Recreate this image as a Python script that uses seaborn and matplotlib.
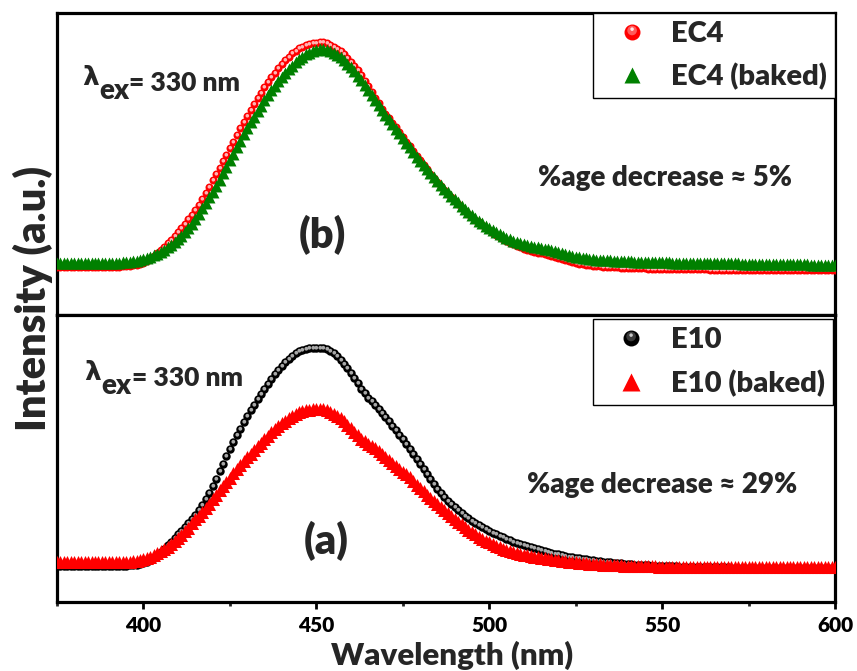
import numpy as np
import matplotlib
matplotlib.use("Agg")
import matplotlib.pyplot as plt
import seaborn as sns
from matplotlib.path import Path
from matplotlib.lines import Line2D
from matplotlib.legend_handler import HandlerTuple
from matplotlib.ticker import MultipleLocator, NullLocator

sns.set_theme(style="white")
plt.rcParams["font.family"] = ["Lato", "DejaVu Sans"]
plt.rcParams["font.weight"] = "heavy"
W = "heavy"

# Emission spectra, excitation at 330 nm, 1 nm steps (intensity in a.u.)
wavelength = np.arange(375, 601, 1)

ec4 = [
    480, 480, 480, 480, 480, 480, 479, 479, 478, 478,
    478, 478, 479, 479, 480, 480, 481, 482, 483, 485,
    488, 491, 495, 501, 510, 523, 540, 563, 590, 619,
    650, 682, 715, 752, 790, 830, 870, 912, 955, 1002,
    1050, 1104, 1160, 1220, 1280, 1345, 1410, 1472, 1535, 1600,
    1665, 1733, 1800, 1865, 1930, 1990, 2050, 2110, 2170, 2225,
    2280, 2330, 2380, 2425, 2470, 2510, 2550, 2585, 2620, 2645,
    2670, 2685, 2700, 2710, 2720, 2725, 2730, 2727, 2720, 2705,
    2685, 2663, 2640, 2608, 2575, 2535, 2495, 2448, 2400, 2345,
    2290, 2233, 2175, 2118, 2060, 2012, 1965, 1920, 1875, 1828,
    1780, 1733, 1685, 1638, 1590, 1545, 1500, 1455, 1410, 1370,
    1330, 1290, 1250, 1212, 1175, 1140, 1105, 1072, 1040, 1010,
    980, 952, 925, 897, 870, 845, 820, 800, 780, 760,
    740, 722, 705, 690, 675, 662, 650, 640, 630, 622,
    615, 608, 600, 590, 580, 567, 555, 545, 535, 527,
    520, 512, 505, 500, 495, 491, 488, 485, 483, 481,
    479, 477, 475, 473, 472, 470, 469, 468, 467, 466,
    465, 464, 463, 462, 461, 460, 460, 459, 459, 458,
    458, 457, 457, 456, 456, 455, 455, 455, 455, 454,
    454, 454, 454, 453, 453, 452, 452, 451, 451, 450,
    450, 450, 450, 449, 449, 449, 449, 448, 448, 448,
    448, 447, 447, 447, 447, 446, 446, 446, 446, 445,
    445, 445, 445, 445, 445, 445,
]

ec4_baked = [
    520, 520, 520, 520, 520, 520, 520, 520, 520, 520,
    520, 520, 520, 520, 520, 520, 521, 521, 523, 525,
    528, 531, 535, 541, 548, 557, 568, 581, 596, 613,
    632, 653, 676, 701, 728, 759, 792, 830, 870, 914,
    960, 1012, 1067, 1122, 1177, 1233, 1290, 1353, 1417, 1482,
    1547, 1613, 1680, 1744, 1807, 1867, 1927, 1984, 2040, 2094,
    2147, 2197, 2247, 2294, 2340, 2380, 2420, 2457, 2493, 2527,
    2560, 2585, 2607, 2625, 2640, 2652, 2660, 2658, 2653, 2638,
    2620, 2602, 2580, 2548, 2513, 2476, 2437, 2395, 2350, 2300,
    2250, 2200, 2150, 2100, 2050, 2003, 1957, 1910, 1863, 1817,
    1770, 1723, 1677, 1630, 1583, 1541, 1500, 1460, 1420, 1380,
    1340, 1300, 1260, 1226, 1193, 1160, 1127, 1093, 1060, 1030,
    1000, 971, 943, 916, 890, 870, 850, 830, 810, 790,
    770, 756, 743, 731, 720, 710, 700, 691, 683, 675,
    668, 661, 655, 647, 638, 629, 620, 610, 600, 591,
    583, 576, 570, 565, 560, 556, 553, 550, 548, 546,
    545, 543, 542, 540, 538, 536, 535, 534, 533, 532,
    531, 530, 529, 528, 527, 526, 525, 525, 524, 524,
    523, 523, 522, 522, 521, 521, 520, 520, 519, 519,
    518, 518, 517, 517, 516, 516, 515, 515, 514, 514,
    513, 513, 512, 512, 511, 511, 510, 510, 509, 509,
    508, 508, 507, 507, 506, 506, 505, 505, 504, 504,
    503, 503, 502, 502, 501, 501,
]

e10 = [
    360, 360, 360, 360, 360, 360, 360, 360, 359, 359,
    359, 359, 359, 359, 360, 360, 360, 360, 361, 362,
    364, 366, 370, 375, 382, 392, 405, 423, 445, 470,
    500, 533, 568, 605, 642, 678, 715, 752, 790, 828,
    870, 918, 970, 1027, 1090, 1160, 1235, 1310, 1385, 1458,
    1530, 1600, 1670, 1735, 1800, 1860, 1920, 1975, 2030, 2083,
    2135, 2185, 2235, 2278, 2320, 2360, 2400, 2433, 2465, 2490,
    2510, 2523, 2533, 2538, 2542, 2543, 2542, 2536, 2527, 2510,
    2490, 2460, 2425, 2385, 2340, 2292, 2240, 2188, 2135, 2088,
    2045, 2007, 1970, 1932, 1895, 1853, 1810, 1765, 1720, 1675,
    1630, 1583, 1535, 1485, 1435, 1383, 1330, 1280, 1230, 1182,
    1135, 1092, 1050, 1015, 980, 950, 920, 892, 865, 840,
    815, 792, 770, 750, 730, 712, 695, 680, 665, 650,
    635, 620, 605, 592, 580, 568, 557, 547, 537, 527,
    518, 509, 500, 492, 484, 477, 470, 462, 455, 449,
    443, 437, 432, 427, 422, 417, 413, 409, 405, 401,
    397, 393, 390, 386, 383, 380, 377, 374, 372, 370,
    368, 366, 364, 362, 361, 360, 359, 358, 357, 356,
    355, 354, 353, 352, 352, 351, 350, 349, 349, 348,
    348, 347, 347, 346, 346, 345, 345, 344, 344, 343,
    343, 342, 342, 341, 341, 341, 341, 340, 340, 339,
    339, 339, 339, 338, 338, 338, 338, 337, 337, 337,
    337, 336, 336, 336, 336, 336,
]

e10_baked = [
    397, 397, 397, 397, 397, 397, 397, 397, 397, 397,
    397, 397, 397, 397, 397, 397, 398, 398, 399, 400,
    401, 404, 408, 413, 420, 429, 440, 454, 470, 489,
    510, 532, 555, 582, 610, 642, 675, 710, 745, 786,
    827, 865, 903, 943, 983, 1027, 1071, 1116, 1161, 1203,
    1245, 1287, 1328, 1368, 1408, 1446, 1484, 1522, 1560, 1595,
    1630, 1664, 1697, 1729, 1760, 1788, 1815, 1839, 1862, 1880,
    1897, 1908, 1918, 1923, 1928, 1929, 1930, 1926, 1920, 1904,
    1885, 1862, 1837, 1807, 1775, 1740, 1705, 1670, 1635, 1610,
    1585, 1563, 1540, 1510, 1480, 1449, 1417, 1389, 1360, 1333,
    1305, 1276, 1246, 1211, 1175, 1141, 1106, 1074, 1042, 1012,
    982, 952, 922, 892, 862, 834, 805, 778, 750, 725,
    700, 678, 655, 635, 615, 598, 580, 564, 548, 535,
    522, 511, 500, 491, 482, 475, 467, 461, 454, 448,
    442, 437, 431, 426, 421, 417, 412, 408, 404, 401,
    397, 394, 391, 388, 385, 383, 380, 378, 375, 373,
    371, 369, 367, 366, 364, 363, 361, 360, 359, 358,
    357, 357, 356, 356, 355, 355, 354, 354, 353, 353,
    353, 353, 353, 353, 352, 352, 352, 352, 352, 352,
    352, 352, 351, 351, 351, 351, 351, 351, 351, 351,
    351, 351, 351, 351, 350, 350, 350, 350, 350, 350,
    350, 350, 350, 350, 350, 350, 350, 350, 350, 350,
    350, 350, 350, 350, 350, 350,
]

panel_labels = ["(b)", "(a)"]
decrease_labels = ["%age decrease \u2248 5%", "%age decrease \u2248 29%"]


def glint(cx, cy, r):
    """Off-centre highlight disc; the two corner moves keep the marker box the size of 'o'."""
    disc = Path.circle((cx, cy), r)
    verts = np.vstack([[[-1.0, -1.0], [1.0, 1.0]], disc.vertices])
    codes = np.concatenate([[Path.MOVETO, Path.MOVETO], disc.codes])
    return Path(verts, codes)


GLINT_SOFT = glint(-0.05, 0.2, 0.5)
GLINT_WIDE = glint(-0.05, 0.25, 0.6)
GLINT_HARD = glint(-0.05, 0.42, 0.22)


def spheres(ax, y, base, soft, size):
    sns.scatterplot(x=wavelength, y=y, ax=ax, marker="o", s=size, color=base,
                    linewidth=0, zorder=3, legend=False)
    sns.scatterplot(x=wavelength, y=y, ax=ax, marker=GLINT_SOFT, s=size * 0.8,
                    color=soft, linewidth=0, zorder=3.1, legend=False)


def triangles(ax, y, color, size):
    sns.scatterplot(x=wavelength, y=y, ax=ax, marker="^", s=size, color=color,
                    linewidth=0, zorder=4, legend=False)


def sphere_handle(base, soft, hard, ms):
    return (
        Line2D([], [], marker="o", ms=ms, color=base, mec="none", ls=""),
        Line2D([], [], marker=GLINT_WIDE, ms=ms, color=soft, mec="none", ls=""),
        Line2D([], [], marker=GLINT_HARD, ms=ms, color=hard, mec="none", ls=""),
    )


def excitation_label(ax, x, y):
    lam = ax.text(x, y, "\u03bb", fontsize=19, fontweight="bold",
                  family="DejaVu Sans", va="baseline", ha="left")
    sub = ax.annotate("ex", xy=(1, 0), xycoords=lam, xytext=(0.5, -6),
                      textcoords="offset points", fontsize=20, fontweight=W,
                      va="baseline", ha="left")
    ax.annotate("= 330 nm", xy=(1, 0), xycoords=(sub, lam), xytext=(0, -3),
                textcoords="offset points", fontsize=19, fontweight=W,
                va="bottom", ha="left")


fig = plt.figure(figsize=(8.57, 6.71), dpi=100)
ax_top = fig.add_axes([0.0665, 0.5306, 0.9078, 0.4500])
ax_bot = fig.add_axes([0.0665, 0.1028, 0.9078, 0.4277])

# (b) EC4 before/after baking
spheres(ax_top, ec4, "#ff0000", "#ffb4b4", 33)
triangles(ax_top, ec4_baked, "#008000", 74)

# (a) E10 before/after baking
spheres(ax_bot, e10, "#000000", "#a8a8a8", 37)
triangles(ax_bot, e10_baked, "#ff0000", 88)

ax_top.set_ylim(0, 3020)
ax_bot.set_ylim(0, 2870)

for ax in (ax_top, ax_bot):
    ax.set_xlim(375, 600)
    ax.set_xlabel("")
    ax.set_ylabel("")
    ax.yaxis.set_major_locator(NullLocator())
    for sp in ax.spines.values():
        sp.set_visible(True)
        sp.set_color("black")
        sp.set_linewidth(2.3)

ax_top.tick_params(axis="x", which="both", bottom=False, labelbottom=False)
ax_bot.xaxis.set_major_locator(MultipleLocator(50))
ax_bot.xaxis.set_minor_locator(MultipleLocator(25))
ax_bot.set_xticks([400, 450, 500, 550, 600])
ax_bot.tick_params(axis="x", which="major", direction="out", length=5, width=2.0,
                   pad=5, labelsize=15, colors="black", bottom=True)
ax_bot.tick_params(axis="x", which="minor", direction="out", length=3, width=2.0,
                   bottom=True)
for lbl in ax_bot.get_xticklabels():
    lbl.set_fontweight(W)

legend_kw = dict(loc="upper right", frameon=True, fancybox=False, framealpha=1,
                 edgecolor="black", borderpad=0.27, handlelength=2.1,
                 handletextpad=0.3, labelspacing=0.56,
                 prop={"family": ["Lato", "DejaVu Sans"], "weight": W, "size": 21},
                 handler_map={tuple: HandlerTuple(ndivide=1, pad=0)})

leg = ax_top.legend(
    handles=[sphere_handle("#ff0000", "#ff5a5a", "#ffe8e8", 11.5),
             Line2D([], [], marker="^", ms=11.5, color="#008000", mec="none", ls="")],
    labels=["EC4", "EC4 (baked)"], bbox_to_anchor=(1, 1), borderaxespad=0.0, **legend_kw)
leg.get_frame().set_linewidth(1.0)

leg = ax_bot.legend(
    handles=[sphere_handle("#000000", "#3a3a3a", "#c8c8c8", 11.5),
             Line2D([], [], marker="^", ms=13.5, color="#ff0000", mec="none", ls="")],
    labels=["E10", "E10 (baked)"], bbox_to_anchor=(0.997, 0.985), borderaxespad=0.0, **legend_kw)
leg.get_frame().set_linewidth(1.0)

excitation_label(ax_top, 382.2, 2300)
excitation_label(ax_bot, 382.8, 2220)

ax_top.text(451.7, 667, panel_labels[0], fontsize=30, fontweight=W,
            ha="center", va="baseline")
ax_bot.text(452.9, 477, panel_labels[1], fontsize=30, fontweight=W,
            ha="center", va="baseline")

ax_top.text(550.7, 1290, decrease_labels[0], fontsize=20, fontweight=W,
            ha="center", va="baseline")
ax_bot.text(550.0, 1087, decrease_labels[1], fontsize=20, fontweight=W,
            ha="center", va="baseline")

fig.text(0.038, 1 - 298 / 671, "Intensity (a.u.)", rotation=90, fontsize=30,
         fontweight=W, ha="center", va="center")
fig.text(0.527, 1 - 665 / 671, "Wavelength (nm)", fontsize=22.5,
         fontweight=W, ha="center", va="baseline")

fig.savefig("out.png", dpi=100)
